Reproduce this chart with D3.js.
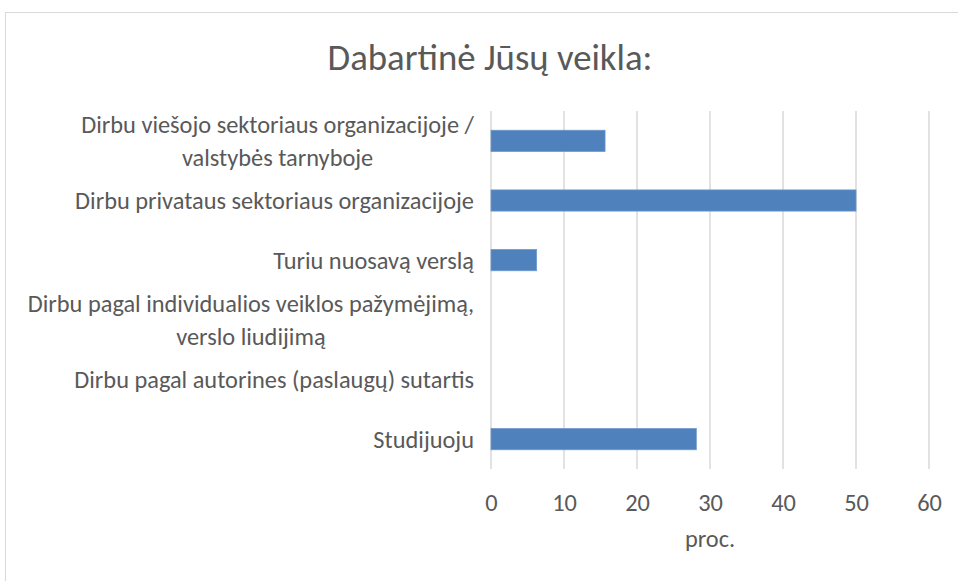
<!DOCTYPE html>
<html>
<head>
<meta charset="utf-8">
<script src="https://cdn.jsdelivr.net/npm/d3@7"></script>
<style>
  body { margin: 0; background: #fff; }
  text { font-family: Carlito, Lato, "Open Sans", sans-serif; fill: #595959; }
</style>
</head>
<body>
<div id="grafica"></div>
<script>
var veikla = [
  {name: ["Dirbu viešojo sektoriaus organizacijoje /", "valstybės tarnyboje"], value: 15.625},
  {name: ["Dirbu privataus sektoriaus organizacijoje"], value: 50},
  {name: ["Turiu nuosavą verslą"], value: 6.25},
  {name: ["Dirbu pagal individualios veiklos pažymėjimą,", "verslo liudijimą"], value: 0},
  {name: ["Dirbu pagal autorines (paslaugų) sutartis"], value: 0},
  {name: ["Studijuoju"], value: 28.125}
];

var W = 958, H = 581;
var margin = {top: 111, right: 29, bottom: 112, left: 491},
    width = W - margin.left - margin.right,
    height = H - margin.top - margin.bottom;

var root = d3.select("#grafica")
  .append("svg")
  .attr("width", W)
  .attr("height", H);

// chart border
root.append("rect")
  .attr("x", 5.5).attr("y", 12.5)
  .attr("width", W + 20).attr("height", H + 20)
  .attr("fill", "none")
  .attr("stroke", "#d9d9d9")
  .attr("stroke-width", 1);

// helper: font size so that a string gets a given width
function fitSize(str, target, weight) {
  var t = root.append("text").attr("font-size", 100).attr("font-weight", weight || 400).text(str);
  var w = t.node().getComputedTextLength();
  t.remove();
  return 100 * target / w;
}
var labelSize = fitSize("Dirbu privataus sektoriaus organizacijoje", 399);
var titleSize = fitSize("Dabartinė Jūsų veikla:", 325, 300);

root.append("text")
  .attr("x", 490)
  .attr("y", 70)
  .attr("text-anchor", "middle")
  .attr("font-size", titleSize)
  .attr("font-weight", 300)
  .text("Dabartinė Jūsų veikla:");

var svg = root.append("g")
  .attr("transform", "translate(" + margin.left + "," + margin.top + ")");

var x = d3.scaleLinear()
  .domain([0, 60])
  .range([0, width]);

var y = d3.scaleBand()
  .domain(veikla.map(function(d, i) { return i; }))
  .range([0, height])
  .paddingInner(0.645)
  .paddingOuter(0.3225);

// gridlines
svg.append("g")
  .selectAll("line")
  .data(x.ticks(6))
  .enter()
  .append("line")
    .attr("x1", function(d) { return x(d); })
    .attr("x2", function(d) { return x(d); })
    .attr("y1", 0)
    .attr("y2", height)
    .attr("stroke", "#d9d9d9")
    .attr("stroke-width", 1.5);

// x axis labels
var xAxis = svg.append("g")
  .attr("transform", "translate(0," + height + ")")
  .call(d3.axisBottom(x).ticks(6).tickSize(0).tickPadding(25));
xAxis.select(".domain").remove();
xAxis.selectAll("text")
  .attr("font-size", labelSize)
  .attr("fill", "#595959")
  .style("font-family", "Carlito, Lato, 'Open Sans', sans-serif");

svg.append("text")
  .attr("x", width / 2)
  .attr("y", height + 78)
  .attr("text-anchor", "middle")
  .attr("font-size", labelSize)
  .text("proc.");

// category labels (lines centred under each other, block right-aligned)
var lineH = labelSize * 1.38;
svg.append("g")
  .selectAll("text")
  .data(veikla)
  .enter()
  .append("text")
    .attr("text-anchor", "middle")
    .attr("font-size", labelSize)
    .attr("y", function(d, i) { return y(i) + y.bandwidth() / 2; })
    .each(function(d) {
      var t = d3.select(this);
      var n = d.name.length;
      d.name.forEach(function(line, k) {
        t.append("tspan")
          .attr("dy", k == 0 ? (0.35 * labelSize - (n - 1) * lineH / 2) : lineH)
          .text(line);
      });
      var maxW = d3.max(t.selectAll("tspan").nodes(), function(s) { return s.getComputedTextLength(); });
      t.selectAll("tspan").attr("x", -17 - maxW / 2);
    });

// bars
svg.selectAll("mybar")
  .data(veikla.filter(function(d) { return d.value > 0; }))
  .enter()
  .append("rect")
    .attr("x", x(0))
    .attr("y", function(d) { return y(veikla.indexOf(d)); })
    .attr("width", function(d) { return x(d.value) - x(0); })
    .attr("height", y.bandwidth())
    .attr("fill", "#4f81bd")
    .attr("stroke", "#6f98cc")
    .attr("stroke-width", 0.8);
</script>
</body>
</html>
